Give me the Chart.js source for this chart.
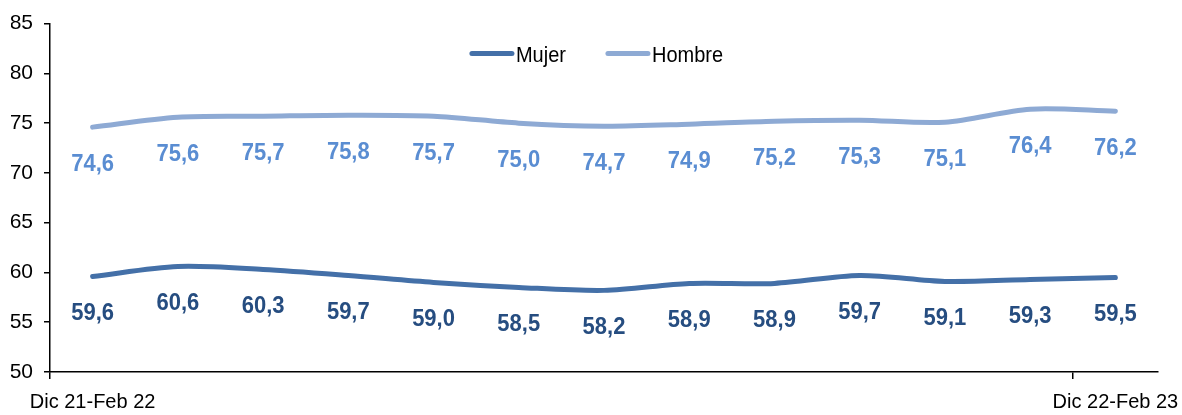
<!DOCTYPE html>
<html>
<head>
<meta charset="utf-8">
<title>Tasa de actividad por sexo</title>
<script src="https://cdn.jsdelivr.net/npm/chart.js"></script>
<style>
    body { margin: 0; background: #fff; }
    #wrap { width: 1182px; height: 415px; }
</style>
</head>
<body>
<div id="wrap"><canvas id="myChart"></canvas></div>
<script>
var periodos = ['Dic 21-Feb 22', 'Ene-Mar 22', 'Feb-Abr 22', 'Mar-May 22', 'Abr-Jun 22', 'May-Jul 22',
    'Jun-Ago 22', 'Jul-Sep 22', 'Ago-Oct 22', 'Sep-Nov 22', 'Oct-Dic 22', 'Nov 22-Ene 23', 'Dic 22-Feb 23'];
var mujer = [59.6, 60.6, 60.3, 59.7, 59.0, 58.5, 58.2, 58.9, 58.9, 59.7, 59.1, 59.3, 59.5];
var hombre = [74.6, 75.6, 75.7, 75.8, 75.7, 75.0, 74.7, 74.9, 75.2, 75.3, 75.1, 76.4, 76.2];
var ticksY = [50, 55, 60, 65, 70, 75, 80, 85];
var etiquetasEje = ['Dic 21-Feb 22', 'Dic 22-Feb 23'];

var fuente = '"Liberation Sans", Arial, sans-serif';
var coloresLinea = ['#4470a8', '#8eaad4'];
var coloresEtiqueta = ['#264d80', '#5a8dd2'];
var estirar = 1.1; // el texto del original sale algo alargado en vertical

// valores debajo de cada punto
var etiquetasDatos = {
    id: 'etiquetasDatos',
    afterDatasetsDraw: function(chart) {
        var ctx = chart.ctx;
        ctx.save();
        ctx.font = 'bold 22px ' + fuente;
        ctx.textAlign = 'center';
        ctx.textBaseline = 'alphabetic';
        chart.data.datasets.forEach(function(ds, i) {
            ctx.fillStyle = coloresEtiqueta[i];
            chart.getDatasetMeta(i).data.forEach(function(pt, j) {
                ctx.save();
                ctx.translate(pt.x, pt.y + 44);
                ctx.scale(1, estirar);
                ctx.fillText(ds.data[j].toFixed(1).replace('.', ','), 0, 0);
                ctx.restore();
            });
        });
        ctx.restore();
    }
};

// leyenda dentro del area del grafico
var leyenda = {
    id: 'leyenda',
    afterDraw: function(chart) {
        var ctx = chart.ctx;
        var area = chart.chartArea;
        var y = area.top + 30;
        ctx.save();
        ctx.font = '20px ' + fuente;
        var total = 0;
        chart.data.datasets.forEach(function(ds, i) {
            total += 47 + ctx.measureText(ds.label).width + (i > 0 ? 39 : 0);
        });
        var x = (area.left + area.right) / 2 - 7 - total / 2;
        ctx.textBaseline = 'alphabetic';
        ctx.lineCap = 'round';
        chart.data.datasets.forEach(function(ds, i) {
            ctx.strokeStyle = coloresLinea[i];
            ctx.lineWidth = 5;
            ctx.beginPath();
            ctx.moveTo(x + 2, y);
            ctx.lineTo(x + 42, y);
            ctx.stroke();
            ctx.fillStyle = '#000';
            ctx.save();
            ctx.translate(x + 46, y + 8);
            ctx.scale(1, estirar);
            ctx.fillText(ds.label, 0, 0);
            ctx.restore();
            x += 47 + ctx.measureText(ds.label).width + 39;
        });
        ctx.restore();
    }
};

var ctx = document.getElementById('myChart');
var myChart = new Chart(ctx, {
    type: 'line',
    data: {
        labels: periodos,
        datasets: [{
            label: 'Mujer',
            data: mujer,
            borderColor: coloresLinea[0],
            backgroundColor: coloresLinea[0],
            borderWidth: 5,
            borderCapStyle: 'round',
            pointRadius: 0,
            tension: 0.3
        }, {
            label: 'Hombre',
            data: hombre,
            borderColor: coloresLinea[1],
            backgroundColor: coloresLinea[1],
            borderWidth: 5,
            borderCapStyle: 'round',
            pointRadius: 0,
            tension: 0.3
        }]
    },
    options: {
        responsive: true,
        maintainAspectRatio: false,
        animation: false,
        layout: {
            padding: { top: 23, right: 24, bottom: 0, left: 11 }
        },
        plugins: {
            legend: { display: false },
            tooltip: { enabled: false }
        },
        scales: {
            x: {
                offset: true,
                grid: {
                    offset: true,
                    drawOnChartArea: false,
                    tickLength: 7,
                    lineWidth: 1.5,
                    tickColor: function(c) {
                        return (c.tick && etiquetasEje.includes(periodos[c.index])) ? '#000' : 'rgba(0,0,0,0)';
                    }
                },
                border: { color: '#000', width: 1.5 },
                ticks: {
                    autoSkip: false,
                    maxRotation: 0,
                    padding: 11,
                    color: '#000',
                    font: { family: fuente, size: 20 },
                    callback: function(val, i) {
                        var l = periodos[i];
                        return etiquetasEje.includes(l) ? l : '';
                    }
                },
                afterFit: function(scale) {
                    scale.paddingLeft = 0;
                    scale.paddingRight = 0;
                    scale.height = 43;
                }
            },
            y: {
                min: ticksY[0],
                max: ticksY[ticksY.length - 1],
                grid: {
                    drawOnChartArea: false,
                    tickLength: 6,
                    lineWidth: 1.5,
                    tickColor: '#000'
                },
                border: { color: '#000', width: 1.5 },
                ticks: {
                    stepSize: ticksY[1] - ticksY[0],
                    padding: 11,
                    color: '#000',
                    font: { family: fuente, size: 21 }
                },
                afterFit: function(scale) {
                    scale.width = 39;
                }
            }
        }
    },
    plugins: [etiquetasDatos, leyenda]
});
</script>
</body>
</html>
